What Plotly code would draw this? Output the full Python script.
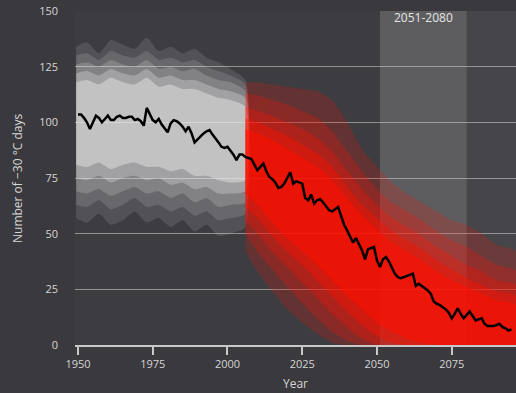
import plotly.graph_objects as go

# ---- data -------------------------------------------------------------
years = list(range(1950, 2096))
mean_days = [
    103.5, 103.5, 102, 100, 97, 100, 103, 102, 100, 101.5,       # 1950-59
    103, 101, 101, 102.5, 103, 102, 102, 102.5, 102.5, 101,      # 1960-69
    101.5, 100.5, 98.5, 106.5, 104, 101, 100, 101.5, 99, 97,     # 1970-79
    95.5, 99.5, 101, 100.5, 99.5, 98, 96, 98, 95, 91,            # 1980-89
    92.5, 94, 95, 96, 96.5, 94.5, 93, 91, 89, 88.5,              # 1990-99
    89, 87.5, 85.5, 83, 85.5, 85.5, 84.5, 84, 83.5, 81,          # 2000-09
    78.5, 80, 81.5, 78, 75.5, 74.5, 73, 70.5, 71, 72.5,          # 2010-19
    75, 77.5, 72.5, 73.5, 73, 72.5, 66, 65, 67.5, 63.5,          # 2020-29
    65, 65.5, 64, 62, 60.5, 60, 61, 62, 58, 54,                  # 2030-39
    51.5, 48.5, 46, 48, 45.5, 42.5, 38.5, 43, 43.5, 44,          # 2040-49
    38, 35, 38.5, 39.5, 37.5, 35, 32, 30.5, 30, 30.5,            # 2050-59
    31, 31.5, 32, 26.5, 27.5, 26.5, 25.5, 24.5, 23, 19.5,        # 2060-69
    18.5, 18, 17, 16, 14.5, 12, 14, 16.5, 14, 12,                # 2070-79
    13.5, 15, 13, 11, 11.5, 12, 9.5, 8.5, 8.5, 8.5,              # 2080-89
    9, 9.5, 8, 7.5, 6.5, 7,                                      # 2090-95
]

# historical ensemble spread (white), five nested envelopes, outermost first
hist_years = [1949.4, 1953, 1957, 1961, 1965, 1969, 1973, 1977, 1981, 1985,
              1989, 1993, 1997, 2001, 2006]
hist_top_1 = [134, 136, 131, 137, 135, 133, 138, 132, 134, 131, 133, 129, 127, 124, 119]
hist_bot_1 = [57, 55, 59, 54, 56, 60, 55, 57, 53, 56, 51, 54, 49, 50, 53]
hist_top_2 = [130, 131, 128, 132, 130, 129, 132, 128, 129, 127, 128, 125, 123, 121, 117]
hist_bot_2 = [63, 62, 65, 61, 63, 66, 62, 63, 60, 62, 58, 60, 56, 57, 59]
hist_top_3 = [126, 127, 125, 128, 126, 125, 128, 124, 125, 123, 124, 121, 119, 118, 114]
hist_bot_3 = [69, 68, 70, 67, 69, 71, 68, 69, 66, 68, 64, 66, 62, 63, 64]
hist_top_4 = [122, 123, 121, 124, 122, 121, 124, 120, 121, 119, 119, 117, 115, 114, 111]
hist_bot_4 = [75, 74, 76, 73, 75, 76, 74, 75, 72, 73, 70, 71, 68, 68, 69]
hist_top_5 = [118, 119, 117, 120, 118, 117, 120, 116, 117, 115, 115, 113, 111, 110, 107]
hist_bot_5 = [81, 80, 82, 79, 81, 82, 80, 80, 78, 79, 76, 76, 74, 73, 74]

# projected ensemble spread (red), five nested envelopes, outermost first
proj_years = [2006, 2010, 2015, 2020, 2025, 2030, 2035, 2040, 2045, 2050,
              2055, 2060, 2065, 2070, 2075, 2080, 2085, 2090, 2096.5]
proj_top_1 = [118, 118, 117, 116, 115, 114, 110, 100, 88, 80, 73, 68, 64, 60, 56, 54, 50, 45, 42]
proj_bot_1 = [42, 33, 24, 16, 10, 5, 1, 0, 0, 0, 0, 0, 0, 0, 0, 0, 0, 0, 0]
proj_top_2 = [113, 112, 110, 108, 105, 102, 96, 87, 78, 70, 64, 60, 56, 51, 47, 44, 40, 36, 33]
proj_bot_2 = [50, 42, 34, 26, 19, 12, 6, 2, 0, 0, 0, 0, 0, 0, 0, 0, 0, 0, 0]
proj_top_3 = [107, 105, 103, 100, 97, 93, 87, 78, 70, 63, 57, 53, 49, 44, 40, 36, 33, 29, 27]
proj_bot_3 = [56, 50, 42, 35, 28, 21, 14, 8, 3, 0, 0, 0, 0, 0, 0, 0, 0, 0, 0]
proj_top_4 = [102, 100, 97, 94, 90, 86, 80, 71, 63, 57, 51, 47, 43, 38, 34, 30, 27, 24, 22]
proj_bot_4 = [62, 57, 49, 42, 36, 29, 22, 15, 9, 4, 1, 0, 0, 0, 0, 0, 0, 0, 0]
proj_top_5 = [97, 95, 92, 88, 84, 80, 74, 66, 58, 52, 46, 42, 38, 33, 29, 26, 23, 20, 18]
proj_bot_5 = [68, 63, 55, 48, 42, 36, 29, 22, 16, 10, 6, 3, 1, 0, 0, 0, 0, 0, 0]

period_start, period_end = 2051, 2080
period_label = "2051-2080"
x_ticks = [1950, 1975, 2000, 2025, 2050, 2075]
y_ticks = [0, 25, 50, 75, 100, 125, 150]

# ---- figure -----------------------------------------------------------
fig = go.Figure()


def band(xs, top, bot, color):
    fig.add_trace(go.Scatter(
        x=list(xs) + list(xs)[::-1],
        y=list(top) + list(bot)[::-1],
        fill="toself", fillcolor=color, mode="lines",
        line=dict(width=0, shape="spline", smoothing=0.6),
        hoverinfo="skip", showlegend=False,
    ))


hist_layers = [(hist_top_1, hist_bot_1), (hist_top_2, hist_bot_2), (hist_top_3, hist_bot_3),
               (hist_top_4, hist_bot_4), (hist_top_5, hist_bot_5)]
hist_alpha = [0.12, 0.15, 0.2, 0.3, 0.45]
for (t, b), a in zip(hist_layers, hist_alpha):
    band(hist_years, t, b, f"rgba(235,235,235,{a})")

proj_layers = [(proj_top_1, proj_bot_1), (proj_top_2, proj_bot_2), (proj_top_3, proj_bot_3),
               (proj_top_4, proj_bot_4), (proj_top_5, proj_bot_5)]
proj_alpha = [0.2, 0.25, 0.3, 0.4, 0.55]
for (t, b), a in zip(proj_layers, proj_alpha):
    band(proj_years, t, b, f"rgba(255,15,0,{a})")

fig.add_trace(go.Scatter(
    x=years, y=mean_days, mode="lines",
    line=dict(color="black", width=2.5), showlegend=False,
))

# background shading
fig.add_shape(type="rect", xref="x", yref="y", x0=period_end, x1=2096.5,
              y0=0, y1=151.5, fillcolor="#46454a", line_width=0, layer="below")
fig.add_shape(type="rect", xref="x", yref="y", x0=period_start, x1=period_end,
              y0=0, y1=151.5, fillcolor="#5d5d60", line_width=0, layer="below")
fig.add_annotation(x=(period_start + period_end) / 2, y=147, xref="x", yref="y",
                   text=period_label, showarrow=False, yanchor="middle",
                   font=dict(size=12, color="#e6e6e6"))

# axis titles
fig.add_annotation(x=-0.1315, y=0.5, xref="paper", yref="paper",
                   text="Number of −30 °C days", textangle=-90, showarrow=False,
                   xanchor="center", yanchor="middle",
                   font=dict(size=12, color="#d6d6d6"))
fig.add_annotation(x=0.5, y=-0.114, xref="paper", yref="paper",
                   text="Year", showarrow=False, xanchor="center", yanchor="middle",
                   font=dict(size=12, color="#d6d6d6"))

fig.update_layout(
    width=516, height=393,
    margin=dict(l=75, r=0, t=11, b=48),
    paper_bgcolor="#3a393d", plot_bgcolor="#3d3c40",
    font=dict(family="Open Sans", size=11, color="#d6d6d6"),
    xaxis=dict(
        range=[1949, 2096.5], tickvals=x_ticks, showgrid=False, zeroline=False,
        showline=True, linecolor="#c8c8c8", linewidth=1.5, automargin=False,
        ticks="outside", ticklen=8, tickcolor="#c8c8c8", tickwidth=1.5,
    ),
    yaxis=dict(
        range=[0, 150], tickvals=y_ticks, showgrid=True, automargin=False,
        gridcolor="rgba(200,200,200,0.6)", gridwidth=1, zeroline=False,
        showline=False, ticks="", ticklabelstandoff=16, layer="above traces",
    ),
)

fig.write_html(
    "out.html",
    config={"displayModeBar": False},
    post_script="document.body.style.margin='0';"
                "document.body.style.background='#3a393d';",
)
